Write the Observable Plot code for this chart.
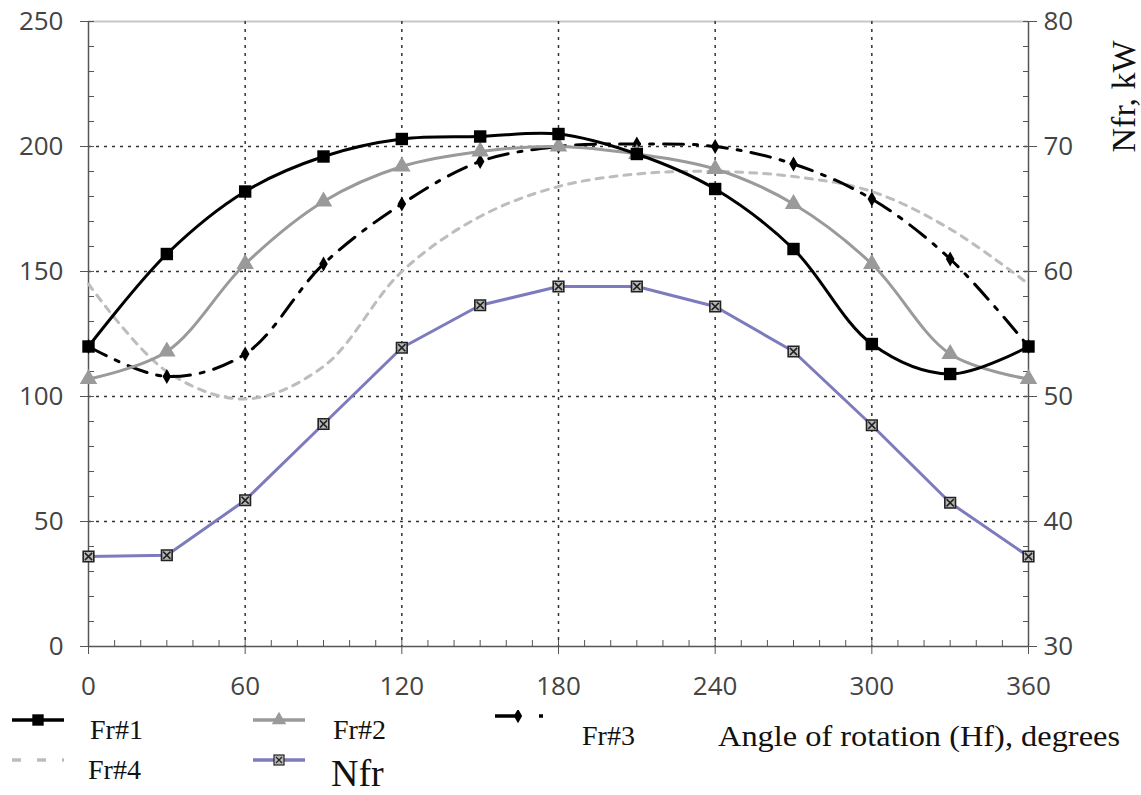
<!DOCTYPE html>
<html>
<head>
<meta charset="utf-8">
<script src="https://cdn.jsdelivr.net/npm/d3@7"></script>
<script src="https://cdn.jsdelivr.net/npm/@observablehq/plot@0.6"></script>
<style>
  body { margin: 0; background: #fff; }
  #wrap { position: relative; width: 1141px; height: 795px; overflow: hidden; }
  #wrap > svg.chart { position: absolute; left: 0; top: 0; }
  #wrap > svg.legend { position: absolute; left: 0; top: 710px; }
</style>
</head>
<body>
<div id="wrap"></div>
<script>
// Angle of rotation, degrees
const angles = [0, 30, 60, 90, 120, 150, 180, 210, 240, 270, 300, 330, 360];

// Forces on the four frames (left axis)
const fr1 = [120, 157, 182, 196, 203, 204, 205, 197, 183, 159, 121, 109, 120];
const fr2 = [107, 118, 153, 178, 192, 198, 200, 197, 191, 177, 153, 117, 107];
const fr3 = [120, 108, 117, 153, 177, 194, 200, 201, 200, 193, 179, 155, 120];
const fr4 = [145, 110, 99, 112, 150, 172, 184, 189, 190, 188, 182, 167, 145];

// Power, kW (right axis)
const nfr = [37.2, 37.3, 41.7, 47.8, 53.9, 57.3, 58.8, 58.8, 57.2, 53.6, 47.7, 41.5, 37.2];

// Axis ticks
const xTicks = [0, 60, 120, 180, 240, 300, 360];
const xMinor = d3.range(0, 361, 10);
const yTicks = [0, 50, 100, 150, 200, 250];
const yMinor = d3.range(0, 251, 10);
const kwTicks = [30, 40, 50, 60, 70, 80];
const kwMinor = d3.range(30, 81, 2);

// The kW axis shares the plot's y scale: 30–80 kW spans 0–250
const toLeft = kw => (kw - 30) * 5;
const fromLeft = v => v / 5 + 30;

const rows = s => angles.map((a, i) => ({angle: a, value: s[i]}));
const nfrRows = angles.map((a, i) => ({angle: a, value: toLeft(nfr[i])}));

const lineW = 3;
const axisColor = "#555";
const tickFont = {fontSize: 26, fontFamily: "Open Sans"};
const noText = {tickFormat: () => "", label: null, stroke: axisColor};

const chart = Plot.plot({
  width: 1141,
  height: 710,
  marginLeft: 88,
  marginRight: 113,
  marginTop: 21,
  marginBottom: 64,
  className: "chart",
  style: {fontFamily: "Open Sans", fontSize: "26px", color: "#444", background: "transparent"},
  x: {domain: [0, 360], label: null},
  y: {domain: [0, 250], label: null},
  marks: [
    // top edge of the plotting area
    Plot.ruleY([250], {stroke: "#c8c8c8", strokeWidth: 2}),
    // dotted grid
    Plot.gridX(xTicks.slice(1, -1), {stroke: "#333", strokeOpacity: 1, strokeWidth: 1.5, strokeDasharray: "3,5"}),
    Plot.gridY(yTicks.slice(1, -1), {stroke: "#333", strokeOpacity: 1, strokeWidth: 1.5, strokeDasharray: "3,5"}),
    // axis lines
    Plot.ruleX([0, 360], {stroke: axisColor, strokeWidth: 1.5}),
    Plot.ruleY([0], {stroke: axisColor, strokeWidth: 1.5}),
    // minor ticks, pointing inward
    Plot.axisX(xMinor, {anchor: "bottom", tickSize: -6, ...noText}),
    Plot.axisY(yMinor, {anchor: "left", tickSize: -6, ...noText}),
    Plot.axisY(kwMinor.map(toLeft), {anchor: "right", tickSize: -6, ...noText}),
    // major ticks and labels
    Plot.axisX(xTicks, {anchor: "bottom", tickSize: 8, tickPadding: 22, stroke: axisColor, fill: "#444", label: null, ...tickFont}),
    Plot.axisY(yTicks, {anchor: "left", tickSize: 8, tickPadding: 17, stroke: axisColor, fill: "#444", label: null, ...tickFont}),
    Plot.axisY(kwTicks.map(toLeft), {anchor: "right", tickSize: 8, tickPadding: 7, tickFormat: fromLeft, stroke: axisColor, fill: "#444", label: null, ...tickFont}),
    Plot.text(["Nfr, kW"], {frameAnchor: "top-right", rotate: -90, textAnchor: "end", dx: 82, dy: 19, fontSize: 34, fontFamily: "Liberation Serif", fill: "#111"}),

    // Fr#4
    Plot.line(rows(fr4), {x: "angle", y: "value", curve: "catmull-rom", stroke: "#bdbdbd", strokeWidth: lineW, strokeDasharray: "7,7"}),
    // Fr#3
    Plot.line(rows(fr3), {x: "angle", y: "value", curve: "catmull-rom", stroke: "#000", strokeWidth: lineW, strokeDasharray: "20,10,4,10"}),
    Plot.dot(rows(fr3), {x: "angle", y: "value", symbol: "diamond", r: 4.5, fill: "#000"}),
    // Fr#2
    Plot.line(rows(fr2), {x: "angle", y: "value", curve: "catmull-rom", stroke: "#9a9a9a", strokeWidth: lineW}),
    Plot.dot(rows(fr2), {x: "angle", y: "value", symbol: "triangle", r: 6.5, fill: "#9a9a9a"}),
    // Fr#1
    Plot.line(rows(fr1), {x: "angle", y: "value", curve: "catmull-rom", stroke: "#000", strokeWidth: lineW}),
    Plot.dot(rows(fr1), {x: "angle", y: "value", symbol: "square", r: 7, fill: "#000"}),
    // Nfr
    Plot.line(nfrRows, {x: "angle", y: "value", stroke: "#7b7bbd", strokeWidth: lineW}),
    Plot.dot(nfrRows, {x: "angle", y: "value", symbol: "square", r: 6, fill: "#b8b8b8", stroke: "#222", strokeWidth: 1.6}),
    Plot.dot(nfrRows, {x: "angle", y: "value", symbol: "times", r: 3.4, stroke: "#222", strokeWidth: 1.5})
  ]
});

const wrap = document.getElementById("wrap");
wrap.appendChild(chart);

// Legend below the chart (coordinates relative to the legend strip)
const legendItems = [
  {label: "Fr#1", stroke: "#000", dash: null, symbol: "square", fill: "#000", sx: 12, sy: 10, tx: 90, ty: 23, size: 28},
  {label: "Fr#2", stroke: "#9a9a9a", dash: null, symbol: "triangle", fill: "#9a9a9a", sx: 253, sy: 10, tx: 333, ty: 23, size: 28},
  {label: "Fr#3", stroke: "#000", dash: "24,20,4,40", symbol: "diamond", fill: "#000", sx: 495, sy: 6, tx: 582, ty: 29, size: 28},
  {label: "Fr#4", stroke: "#bdbdbd", dash: "9,16", symbol: null, sx: 12, sy: 50, tx: 88, ty: 63, size: 28},
  {label: "Nfr", stroke: "#7b7bbd", dash: null, symbol: "nfr", sx: 253, sy: 50, tx: 331, ty: 67, size: 38}
];
const xTitle = {label: "Angle of rotation (Hf), degrees", tx: 718, ty: 29, size: 30, length: 402};

const svgNS = "http://www.w3.org/2000/svg";
const lg = document.createElementNS(svgNS, "svg");
lg.setAttribute("class", "legend");
lg.setAttribute("width", 1141);
lg.setAttribute("height", 85);
const el = (name, attrs) => {
  const e = document.createElementNS(svgNS, name);
  for (const k in attrs) e.setAttribute(k, attrs[k]);
  lg.appendChild(e);
  return e;
};
const sym = (type, cx, cy, fill) => {
  const s = {square: d3.symbolSquare, triangle: d3.symbolTriangle, diamond: d3.symbolDiamond}[type];
  const size = {square: 130, triangle: 90, diamond: 60}[type];
  el("path", {d: d3.symbol(s, size)(), transform: `translate(${cx},${cy})`, fill});
};
for (const it of legendItems) {
  const len = it.symbol === "diamond" ? 65 : 52;
  const ln = el("line", {x1: it.sx, x2: it.sx + len, y1: it.sy, y2: it.sy, stroke: it.stroke, "stroke-width": 3.5});
  if (it.dash) ln.setAttribute("stroke-dasharray", it.dash);
  if (it.symbol === "square" || it.symbol === "triangle") sym(it.symbol, it.sx + 26, it.sy, it.fill);
  if (it.symbol === "diamond") sym("diamond", it.sx + 23, it.sy, it.fill);
  if (it.symbol === "nfr") {
    el("rect", {x: it.sx + 21, y: it.sy - 5, width: 10, height: 10, fill: "#b8b8b8", stroke: "#222", "stroke-width": 1.2});
    el("path", {d: `M${it.sx + 23},${it.sy - 3}L${it.sx + 29},${it.sy + 3}M${it.sx + 29},${it.sy - 3}L${it.sx + 23},${it.sy + 3}`, stroke: "#222", "stroke-width": 1.2});
  }
  const t = el("text", {x: it.tx, y: it.ty, "dominant-baseline": "middle", "font-family": "Liberation Serif", "font-size": it.size, fill: "#111"});
  t.textContent = it.label;
}
const tt = el("text", {x: xTitle.tx, y: xTitle.ty, "dominant-baseline": "middle", "font-family": "Liberation Serif", "font-size": xTitle.size, fill: "#111", textLength: xTitle.length, lengthAdjust: "spacingAndGlyphs"});
tt.textContent = xTitle.label;
wrap.appendChild(lg);
</script>
</body>
</html>
